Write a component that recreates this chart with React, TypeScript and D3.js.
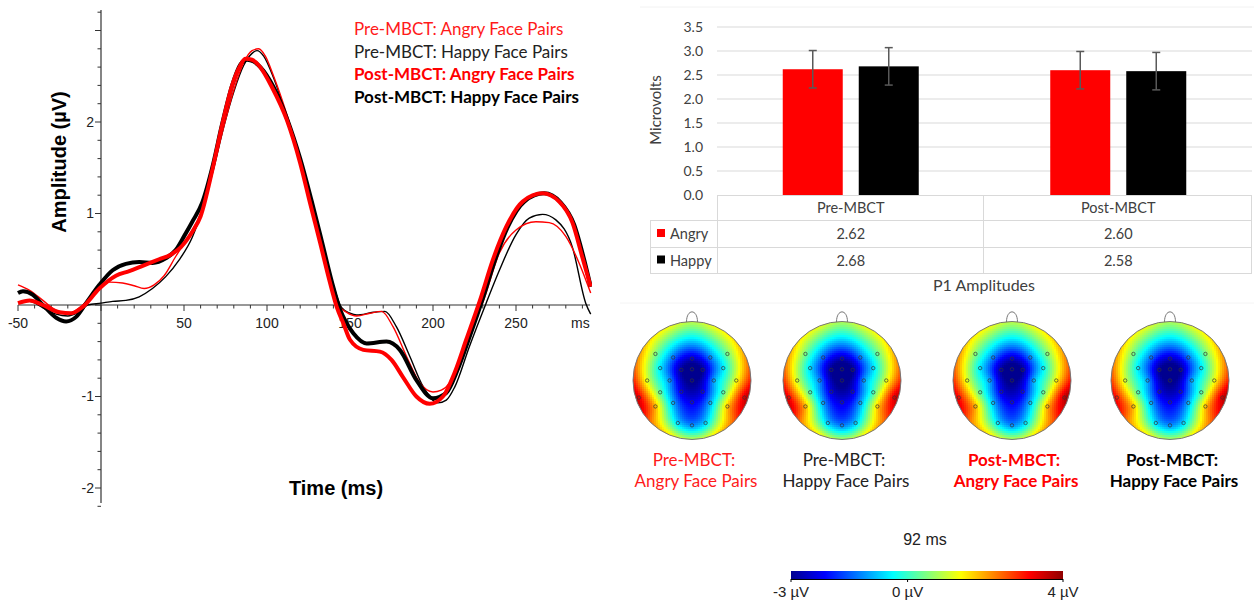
import React, { useMemo } from "react";
import * as d3 from "d3";

// ERP waveforms, [time ms, amplitude µV]
const preAngryWave: [number, number][] = [
  [-50, 0.22], [-43, 0.16], [-35, 0.05], [-27, -0.06], [-19, -0.09], [-11, 0.0], [-1, 0.17],
  [5, 0.25], [13, 0.24], [20, 0.21], [26, 0.18], [32, 0.22], [38, 0.32], [45, 0.53], [52, 0.73],
  [60, 1.0], [67, 1.45], [74, 1.95], [80, 2.35], [86, 2.65], [91, 2.78], [95, 2.8], [99, 2.72],
  [104, 2.5], [112, 2.08], [120, 1.58], [126, 1.13], [132, 0.7], [138, 0.27], [143, 0.0],
  [148, -0.08], [154, -0.12], [162, -0.09], [169, -0.07], [176, -0.24], [184, -0.56], [192, -0.85],
  [200, -0.95], [205, -0.93], [210, -0.85], [218, -0.5], [224, -0.2], [230, 0.03], [240, 0.57],
  [250, 0.82], [262, 0.91], [270, 0.9], [280, 0.75], [288, 0.46], [295, 0.13],
];
const preHappyWave: [number, number][] = [
  [-50, 0.03], [-43, 0.04], [-35, -0.03], [-27, -0.1], [-20, -0.12], [-14, -0.08], [-8, 0.0],
  [0, 0.02], [7, 0.04], [15, 0.05], [23, 0.09], [31, 0.18], [39, 0.31], [47, 0.49], [55, 0.74],
  [62, 1.1], [68, 1.5], [74, 1.95], [80, 2.33], [86, 2.62], [91, 2.75], [94, 2.78], [98, 2.72],
  [104, 2.48], [112, 2.05], [120, 1.55], [127, 1.1], [133, 0.68], [139, 0.28], [145, -0.03],
  [150, -0.09], [154, -0.11], [164, -0.08], [171, -0.07], [178, -0.24], [186, -0.56], [194, -0.89],
  [203, -1.07], [208, -1.04], [213, -0.9], [222, -0.45], [232, 0.02], [240, 0.38], [250, 0.77],
  [258, 0.95], [266, 0.99], [274, 0.93], [284, 0.63], [292, 0.02], [295, -0.1],
];
const postAngryWave: [number, number][] = [
  [-50, 0.02], [-43, 0.05], [-35, 0.0], [-25, -0.08], [-18, -0.09], [-11, -0.02], [-1, 0.18],
  [9, 0.32], [17, 0.37], [24, 0.42], [35, 0.5], [42, 0.55], [48, 0.63], [55, 0.8], [60, 0.97],
  [67, 1.47], [73, 1.97], [79, 2.4], [84, 2.62], [87, 2.69], [91, 2.68], [95, 2.62], [103, 2.38],
  [112, 2.02], [120, 1.55], [126, 1.11], [132, 0.68], [138, 0.24], [142, -0.02], [146, -0.2],
  [150, -0.38], [158, -0.49], [168, -0.51], [175, -0.6], [182, -0.79], [190, -1.0], [198, -1.08],
  [206, -1.0], [213, -0.74], [220, -0.38], [229, 0.09], [236, 0.49], [244, 0.85], [254, 1.13],
  [266, 1.22], [276, 1.13], [284, 0.9], [290, 0.52], [295, 0.2],
];
const postHappyWave: [number, number][] = [
  [-50, 0.13], [-47, 0.15], [-41, 0.11], [-35, 0.0], [-27, -0.14], [-21, -0.18], [-15, -0.13],
  [-9, 0.02], [-1, 0.22], [7, 0.38], [15, 0.45], [23, 0.47], [31, 0.46], [39, 0.51], [45, 0.6],
  [50, 0.75], [55, 0.91], [61, 1.12], [67, 1.5], [73, 1.98], [79, 2.4], [84, 2.63], [88, 2.68],
  [92, 2.66], [96, 2.6], [104, 2.38], [112, 2.04], [120, 1.6], [127, 1.13], [133, 0.7], [139, 0.26],
  [144, -0.05], [148, -0.2], [152, -0.31], [160, -0.42], [172, -0.4], [180, -0.49], [190, -0.82],
  [200, -1.02], [208, -0.96], [215, -0.7], [222, -0.35], [230, 0.07], [237, 0.47], [245, 0.85],
  [255, 1.13], [267, 1.22], [277, 1.12], [285, 0.88], [291, 0.5], [295, 0.2],
];

const legendLabels = [
  "Pre-MBCT: Angry Face Pairs",
  "Pre-MBCT: Happy Face Pairs",
  "Post-MBCT: Angry Face Pairs",
  "Post-MBCT: Happy Face Pairs",
];
const erpXLabels = [-50, 50, 100, 150, 200, 250];
const erpYLabels = [-2, -1, 1, 2];

// P1 bar chart
const sessions = ["Pre-MBCT", "Post-MBCT"];
const emotions = ["Angry", "Happy"];
const angryMeans = [2.62, 2.6];
const happyMeans = [2.68, 2.58];
const angryErr = [0.39, 0.39];
const happyErr = [0.39, 0.39];
const barTicks = [0, 0.5, 1, 1.5, 2, 2.5, 3, 3.5];

// scalp maps at 92 ms
const electrodes = [
  [-0.62, -0.45], [-0.32, -0.39], [0, -0.37], [0.31, -0.39], [0.6, -0.45],
  [-0.54, -0.21], [-0.18, -0.18], [0, -0.19], [0.18, -0.18], [0.53, -0.21],
  [-0.76, 0], [-0.38, 0], [0, 0], [0.37, 0], [0.75, 0],
  [-0.9, 0.29], [-0.54, 0.2], [-0.18, 0.19], [0.18, 0.19], [0.53, 0.2], [0.89, 0.29],
  [-0.62, 0.44], [-0.32, 0.38], [0, 0.37], [0.31, 0.38], [0.6, 0.44],
  [-0.24, 0.72], [0, 0.76], [0.23, 0.72],
];
const rimAngles = [0, 22.5, 45, 67.5, 90, 112.5, 135, 157.5, 180, 202.5, 225, 247.5, 270, 292.5, 315, 337.5];

const topoPreAngry = [0.5, -1.4, -2.6, -1.3, 0.4, -0.5, -2.9, -3.3, -2.9, -0.5, 1.2, -1.1, -3.1, -1.0, 1.3,
  3.3, 0.3, -2.3, -2.3, 0.2, 3.4, 1.9, -0.9, -2.2, -0.9, 1.8, -0.6, -1.1, -0.6];
const rimPreAngry = [0.9, 1.3, 1.6, 2.2, 3.0, 3.6, 2.5, 1.6, 1.0, 1.6, 2.4, 3.6, 3.0, 2.2, 1.6, 1.3];
const topoPreHappy = [0.4, -1.5, -2.7, -1.4, 0.3, -0.6, -3.0, -3.4, -3.0, -0.6, 1.1, -1.2, -3.2, -1.1, 1.2,
  3.2, 0.2, -2.4, -2.4, 0.1, 3.4, 1.9, -1.0, -2.3, -1.0, 1.7, -0.7, -1.2, -0.7];
const rimPreHappy = [0.8, 1.2, 1.5, 2.1, 2.9, 3.5, 2.4, 1.5, 0.9, 1.5, 2.3, 3.6, 2.9, 2.1, 1.5, 1.2];
const topoPostAngry = [0.5, -1.3, -2.6, -1.3, 0.5, -0.5, -2.9, -3.3, -2.9, -0.4, 1.2, -1.0, -3.1, -0.9, 1.4,
  3.1, 0.3, -2.3, -2.2, 0.3, 3.6, 1.9, -0.8, -2.2, -0.8, 1.9, -0.5, -1.1, -0.5];
const rimPostAngry = [0.9, 1.3, 1.7, 2.3, 3.1, 3.7, 2.6, 1.6, 1.0, 1.6, 2.3, 3.4, 2.9, 2.2, 1.6, 1.3];
const topoPostHappy = [0.4, -1.4, -2.6, -1.4, 0.4, -0.5, -2.9, -3.3, -2.9, -0.5, 1.1, -1.0, -3.1, -1.0, 1.3,
  3.0, 0.2, -2.3, -2.3, 0.2, 3.5, 1.8, -0.9, -2.2, -0.9, 1.8, -0.6, -1.1, -0.6];
const rimPostHappy = [0.8, 1.2, 1.6, 2.2, 3.0, 3.6, 2.5, 1.5, 0.9, 1.5, 2.2, 3.3, 2.8, 2.1, 1.5, 1.2];

const colorStops = [-3, -2.125, -0.375, 1.375, 3.125, 4];
const jetColors = ["#00008f", "#0000ff", "#00ffff", "#ffff00", "#ff0000", "#8f0000"];
const colorbarTicks = [-3, 0, 4];

const ARIAL = "'Liberation Sans', Arial, sans-serif";
const CALIBRI = "Lato, 'Open Sans', sans-serif";
const TXT = "#404040";

const jet = d3.scaleLinear<string>().domain(colorStops).range(jetColors).clamp(true);

// thin plate spline through the sampled scalp values
function fitTps(pts: number[][], vals: number[]) {
  const n = pts.length;
  const m = n + 3;
  const phi = (r: number) => (r < 1e-9 ? 0 : r * r * Math.log(r));
  const A: number[][] = [];
  for (let i = 0; i < m; i++) A.push(new Array(m + 1).fill(0));
  for (let i = 0; i < n; i++) {
    for (let j = 0; j < n; j++) {
      A[i][j] = phi(Math.hypot(pts[i][0] - pts[j][0], pts[i][1] - pts[j][1]));
    }
    A[i][n] = 1;
    A[i][n + 1] = pts[i][0];
    A[i][n + 2] = pts[i][1];
    A[n][i] = 1;
    A[n + 1][i] = pts[i][0];
    A[n + 2][i] = pts[i][1];
    A[i][m] = vals[i];
  }
  for (let c = 0; c < m; c++) {
    let p = c;
    for (let r = c + 1; r < m; r++) if (Math.abs(A[r][c]) > Math.abs(A[p][c])) p = r;
    const tmp = A[c];
    A[c] = A[p];
    A[p] = tmp;
    for (let r = 0; r < m; r++) {
      if (r === c) continue;
      const k = A[r][c] / A[c][c];
      if (k === 0) continue;
      for (let j = c; j <= m; j++) A[r][j] -= k * A[c][j];
    }
  }
  const w = A.map((row, i) => row[m] / row[i]);
  return (x: number, y: number) => {
    let s = w[n] + w[n + 1] * x + w[n + 2] * y;
    for (let i = 0; i < n; i++) s += w[i] * phi(Math.hypot(x - pts[i][0], y - pts[i][1]));
    return s;
  };
}

const ErpPanel = () => {
  const x = d3.scaleLinear().domain([-50, 295]).range([18, 590.7]);
  const y = d3.scaleLinear().domain([-2, 3]).range([488, 30.5]);
  const line = d3
    .line<[number, number]>()
    .x((d) => x(d[0]))
    .y((d) => y(d[1]))
    .curve(d3.curveMonotoneX);

  const xTicks = d3.range(-50, 291, 10);
  const yTicks = d3.range(-11, 17);

  const series = [
    { data: preHappyWave, color: "#000", w: 1.4 },
    { data: preAngryWave, color: "#ff0000", w: 1.4 },
    { data: postHappyWave, color: "#000", w: 4 },
    { data: postAngryWave, color: "#ff0000", w: 4 },
  ];
  const legendStyle = [
    { fill: "#ff1a1a", weight: 400 },
    { fill: "#222", weight: 400 },
    { fill: "#ff0000", weight: 700 },
    { fill: "#000", weight: 700 },
  ];

  return (
    <g clipPath="url(#erpClip)">
      <line x1={x(-50)} x2={590} y1={y(0)} y2={y(0)} stroke="#333" strokeWidth={1.2} />
      <line x1={x(0)} x2={x(0)} y1={10} y2={503} stroke="#333" strokeWidth={1.2} />
      {xTicks.map((t) => (
        <line key={"xt" + t} x1={x(t)} x2={x(t)} y1={y(0)} y2={y(0) + (t % 50 === 0 ? 6 : 3.5)} stroke="#333" strokeWidth={1} />
      ))}
      {yTicks.map((k) => (
        <line key={"yt" + k} x1={x(0) - (k % 5 === 0 ? 6 : 3.5)} x2={x(0)} y1={y(k * 0.2)} y2={y(k * 0.2)} stroke="#333" strokeWidth={1} />
      ))}
      {erpXLabels.map((t) => (
        <text key={"xl" + t} x={x(t)} y={328} textAnchor="middle" fontFamily={ARIAL} fontSize={14} fill="#222">
          {t}
        </text>
      ))}
      <text x={571} y={328} fontFamily={ARIAL} fontSize={14} fill="#222">ms</text>
      {erpYLabels.map((v) => (
        <text key={"yl" + v} x={94} y={y(v)} dy="0.35em" textAnchor="end" fontFamily={ARIAL} fontSize={14} fill="#222">
          {v}
        </text>
      ))}
      <text transform={`translate(66,162) rotate(-90)`} textAnchor="middle" fontFamily={ARIAL} fontSize={20} fontWeight={700} fill="#000">
        Amplitude (µV)
      </text>
      <text x={336} y={495} textAnchor="middle" fontFamily={ARIAL} fontSize={20} fontWeight={700} fill="#000">
        Time (ms)
      </text>

      {series.map((s, i) => (
        <path key={i} d={line(s.data) || ""} fill="none" stroke={s.color} strokeWidth={s.w} strokeLinejoin="round" />
      ))}

      {legendLabels.map((l, i) => (
        <text key={l} x={354} y={35 + i * 22.6} fontFamily={CALIBRI} fontSize={17} fontWeight={legendStyle[i].weight} fill={legendStyle[i].fill}>
          {l}
        </text>
      ))}
    </g>
  );
};

const BarPanel = () => {
  const y = d3.scaleLinear().domain([0, 3.5]).range([195, 27]);
  const x = d3.scaleBand().domain(sessions).range([717, 1252]);
  const sub = d3.scaleBand().domain(emotions).range([-68, 68]).paddingInner(16 / 76);
  const means = [angryMeans, happyMeans];
  const errs = [angryErr, happyErr];
  const colors = ["#ff0000", "#000000"];
  const grid = "#d9d9d9";

  return (
    <g>
      <line x1={640} x2={1254} y1={7} y2={7} stroke="#f2f2f2" />
      {barTicks.map((t) => (
        <g key={t}>
          {t > 0 && <line x1={717} x2={1252} y1={y(t)} y2={y(t)} stroke={grid} strokeWidth={1} />}
          <text x={703} y={y(t)} dy="0.35em" textAnchor="end" fontFamily={CALIBRI} fontSize={14} fill={TXT}>
            {t.toFixed(1)}
          </text>
        </g>
      ))}
      <text transform="translate(661,110) rotate(-90)" textAnchor="middle" fontFamily={CALIBRI} fontSize={15} fill={TXT}>
        Microvolts
      </text>

      {sessions.map((s, si) =>
        emotions.map((e, ei) => {
          const cx = (x(s) || 0) + x.bandwidth() / 2 + (sub(e) || 0);
          const v = means[ei][si];
          const er = errs[ei][si];
          const mid = cx + sub.bandwidth() / 2;
          return (
            <g key={s + e}>
              <rect x={cx} y={y(v)} width={sub.bandwidth()} height={y(0) - y(v)} fill={colors[ei]} />
              <line x1={mid} x2={mid} y1={y(v + er)} y2={y(v - er)} stroke="#595959" strokeWidth={1.5} />
              <line x1={mid - 4} x2={mid + 4} y1={y(v + er)} y2={y(v + er)} stroke="#595959" strokeWidth={1.5} />
              <line x1={mid - 4} x2={mid + 4} y1={y(v - er)} y2={y(v - er)} stroke="#595959" strokeWidth={1.5} />
            </g>
          );
        })
      )}

      {/* data table */}
      <line x1={717} x2={1252} y1={195.5} y2={195.5} stroke={grid} />
      <line x1={650} x2={1252} y1={220.5} y2={220.5} stroke={grid} />
      <line x1={650} x2={1252} y1={247.5} y2={247.5} stroke={grid} />
      <line x1={650} x2={1252} y1={273.5} y2={273.5} stroke={grid} />
      <line x1={650.5} x2={650.5} y1={220.5} y2={273.5} stroke={grid} />
      <line x1={717.5} x2={717.5} y1={195.5} y2={273.5} stroke={grid} />
      <line x1={983.5} x2={983.5} y1={195.5} y2={273.5} stroke={grid} />
      <line x1={1251.5} x2={1251.5} y1={195.5} y2={273.5} stroke={grid} />
      {sessions.map((s) => (
        <text key={s} x={(x(s) || 0) + x.bandwidth() / 2} y={213} textAnchor="middle" fontFamily={CALIBRI} fontSize={14.5} fill={TXT}>
          {s}
        </text>
      ))}
      {emotions.map((e, ei) => (
        <g key={e}>
          <rect x={657} y={229 + ei * 26.5} width={8} height={8} fill={colors[ei]} />
          <text x={670} y={239 + ei * 26.5} fontFamily={CALIBRI} fontSize={14.5} fill={TXT}>
            {e}
          </text>
          {sessions.map((s, si) => (
            <text key={s} x={(x(s) || 0) + x.bandwidth() / 2} y={239 + ei * 26.5} textAnchor="middle" fontFamily={CALIBRI} fontSize={14.5} fill={TXT}>
              {means[ei][si].toFixed(2)}
            </text>
          ))}
        </g>
      ))}
      <text x={984} y={291} textAnchor="middle" fontFamily={CALIBRI} fontSize={16} fill={TXT}>
        P1 Amplitudes
      </text>
      <line x1={620} x2={1254} y1={303} y2={303} stroke="#f4f4f4" />
    </g>
  );
};

type HeadProps = { id: string; cx: number; cy: number; r: number; values: number[]; rim: number[] };

const TopoHead = ({ id, cx, cy, r, values, rim }: HeadProps) => {
  const cells = useMemo(() => {
    const rimPts = rimAngles.map((a) => [Math.sin((a * Math.PI) / 180), -Math.cos((a * Math.PI) / 180)]);
    const f = fitTps([...electrodes, ...rimPts], [...values, ...rim]);
    const step = 2;
    const out: { x: number; y: number; c: string }[] = [];
    for (let gy = -r - 1; gy < r + 1; gy += step) {
      for (let gx = -r - 1; gx < r + 1; gx += step) {
        const nx = (gx + step / 2) / r;
        const ny = (gy + step / 2) / r;
        if (nx * nx + ny * ny > 1.1) continue;
        out.push({ x: cx + gx, y: cy + gy, c: jet(f(nx, ny)) });
      }
    }
    return out;
  }, [cx, cy, r, values, rim]);

  return (
    <g>
      <clipPath id={id}>
        <circle cx={cx} cy={cy} r={r} />
      </clipPath>
      <g clipPath={`url(#${id})`}>
        {cells.map((c, i) => (
          <rect key={i} x={c.x} y={c.y} width={2.05} height={2.05} fill={c.c} shapeRendering="crispEdges" />
        ))}
      </g>
      <circle cx={cx} cy={cy} r={r} fill="none" stroke="#777" strokeWidth={1} />
      <path
        d={`M${cx - 5.5},${cy - r + 0.5} C${cx - 5.5},${cy - r - 13} ${cx + 5.5},${cy - r - 13} ${cx + 5.5},${cy - r + 0.5}`}
        fill="none"
        stroke="#777"
        strokeWidth={1}
      />
      {electrodes.map((e, i) => (
        <circle key={i} cx={cx + e[0] * r} cy={cy + e[1] * r} r={1.7} fill="none" stroke="#333" strokeWidth={0.7} />
      ))}
    </g>
  );
};

const heads = [
  { id: "h1", cx: 692, values: topoPreAngry, rim: rimPreAngry, l1: "Pre-MBCT:", l2: "Angry Face Pairs", fill: "#ff1a1a", weight: 400 },
  { id: "h2", cx: 842, values: topoPreHappy, rim: rimPreHappy, l1: "Pre-MBCT:", l2: "Happy Face Pairs", fill: "#222", weight: 400 },
  { id: "h3", cx: 1012, values: topoPostAngry, rim: rimPostAngry, l1: "Post-MBCT:", l2: "Angry Face Pairs", fill: "#ff0000", weight: 700 },
  { id: "h4", cx: 1170, values: topoPostHappy, rim: rimPostHappy, l1: "Post-MBCT:", l2: "Happy Face Pairs", fill: "#000", weight: 700 },
];

const ColorBar = () => {
  const x = d3.scaleLinear().domain([-3, 4]).range([791, 1063]);
  return (
    <g>
      <defs>
        <linearGradient id="jetGrad" x1="0" x2="1" y1="0" y2="0">
          {colorStops.map((v, i) => (
            <stop key={v} offset={(v + 3) / 7} stopColor={jetColors[i]} />
          ))}
        </linearGradient>
      </defs>
      <text x={925} y={545} textAnchor="middle" fontFamily={ARIAL} fontSize={16} fill="#222">
        92 ms
      </text>
      <rect x={x(-3)} y={571} width={x(4) - x(-3)} height={8} fill="url(#jetGrad)" />
      <line x1={x(-3)} x2={x(4)} y1={579.5} y2={579.5} stroke="#000" strokeWidth={1} />
      {colorbarTicks.map((t) => (
        <g key={t}>
          <line x1={x(t)} x2={x(t)} y1={579} y2={582} stroke="#000" />
          <text x={x(t)} y={597} textAnchor="middle" fontFamily={ARIAL} fontSize={15} fill="#222">
            {t} µV
          </text>
        </g>
      ))}
    </g>
  );
};

export default function App() {
  return (
    <svg
      width={1254}
      height={604}
      viewBox="0 0 1254 604"
      style={{ position: "absolute", left: 0, top: 0, display: "block", background: "#fff" }}
    >
      <defs>
        <clipPath id="erpClip">
          <rect x={0} y={0} width={592} height={604} />
        </clipPath>
      </defs>
      <rect width={1254} height={604} fill="#fff" />
      <ErpPanel />
      <BarPanel />
      {heads.map((h) => (
        <g key={h.id}>
          <TopoHead id={h.id} cx={h.cx} cy={380.5} r={59} values={h.values} rim={h.rim} />
          <text x={h.cx + 2} y={466} textAnchor="middle" fontFamily={CALIBRI} fontSize={17} fontWeight={h.weight} fill={h.fill}>
            {h.l1}
          </text>
          <text x={h.cx + 4} y={487} textAnchor="middle" fontFamily={CALIBRI} fontSize={17} fontWeight={h.weight} fill={h.fill}>
            {h.l2}
          </text>
        </g>
      ))}
      <ColorBar />
    </svg>
  );
}
